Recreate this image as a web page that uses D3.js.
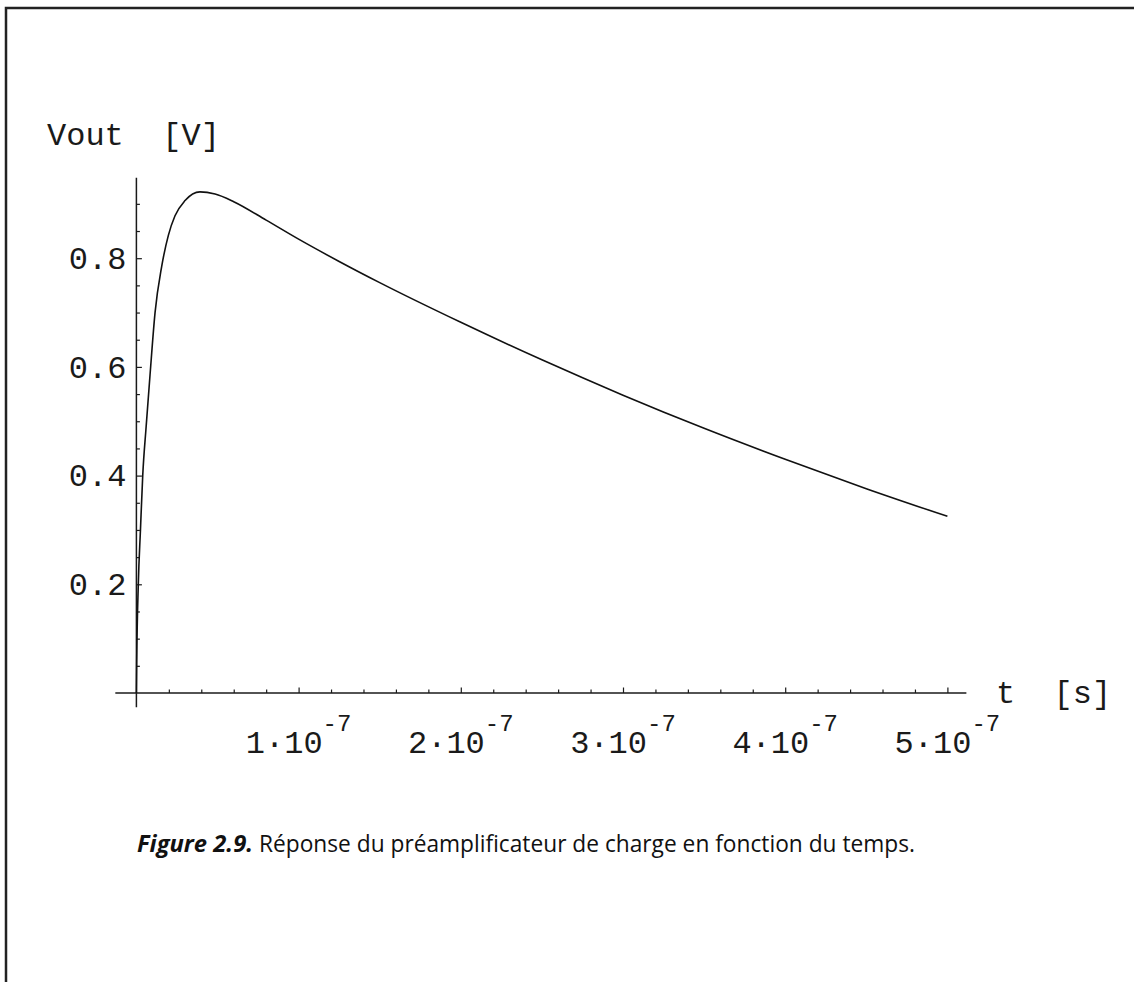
<!DOCTYPE html>
<html>
<head>
<meta charset="utf-8">
<script src="https://cdn.jsdelivr.net/npm/d3@7"></script>
<style>
  html, body { margin: 0; padding: 0; background: #fff; }
  svg { display: block; }
</style>
</head>
<body>
<svg id="chart" width="1134" height="982"></svg>
<script>
// ---- data (time in units of 1e-7 s) ----
const timeE7 = [0, 0.002, 0.0117, 0.025, 0.039, 0.06, 0.084, 0.115, 0.156, 0.197,
  0.238, 0.30, 0.392, 0.485, 0.60, 0.80, 1.0, 1.25, 1.5, 2.0,
  2.5, 3.0, 3.5, 4.0, 4.5, 5.0];
const voutVolts = [0, 0.06, 0.20, 0.30, 0.40, 0.49, 0.585, 0.70, 0.785, 0.842,
  0.878, 0.906, 0.922, 0.918, 0.904, 0.870, 0.835, 0.794, 0.755, 0.682,
  0.613, 0.548, 0.487, 0.430, 0.376, 0.325];
const xMajorTicks = [1e-7, 2e-7, 3e-7, 4e-7, 5e-7];
const xTickMantissa = ["1", "2", "3", "4", "5"];
const xTickExponent = "-7";
const yMajorTicks = [0.2, 0.4, 0.6, 0.8];
const yTickLabels = ["0.2", "0.4", "0.6", "0.8"];
const yAxisTitle = "Vout  [V]";
const xAxisTitle = "t  [s]";
const captionBold = "Figure 2.9.";
const captionText = "Réponse du préamplificateur de charge en fonction du temps.";

// ---- layout ----
const svg = d3.select("#chart");
svg.append("rect").attr("width", 1134).attr("height", 982).attr("fill", "#fff");

const x = d3.scaleLinear().domain([0, 5e-7]).range([136.4, 947.4]);
const y = d3.scaleLinear().domain([0, 0.8]).range([693, 258.2]);

const ink = "#1a1a1a";
const mono = "'Liberation Mono', 'Courier New', monospace";
const fs = 32;

// frame (top + left border)
svg.append("path").attr("d", "M6,982 V8 H1134")
  .attr("fill", "none").attr("stroke", "#222").attr("stroke-width", 2.5);

// minor tick values
const yMinor = d3.range(1, 19).map(i => +(i * 0.05).toFixed(2)).filter(v => !yMajorTicks.includes(v));
const xMinor = d3.range(1, 25).map(i => i * 0.2e-7).filter((v, i) => (i + 1) % 5 !== 0);

// y axis
const gy = svg.append("g").attr("transform", `translate(${x(0)},0)`);
gy.append("line").attr("x1", 0).attr("x2", 0)
  .attr("y1", y(0.948)).attr("y2", y(-0.026))
  .attr("stroke", ink).attr("stroke-width", 1.5);
gy.append("g").call(d3.axisLeft(y).tickValues(yMinor).tickSize(-3.5).tickFormat(""))
  .call(g => g.select(".domain").remove())
  .selectAll("line").attr("stroke", ink).attr("stroke-width", 1.2);
gy.append("g").call(d3.axisLeft(y).tickValues(yMajorTicks).tickSize(-5.5).tickPadding(10)
    .tickFormat((d, i) => yTickLabels[i]))
  .call(g => g.select(".domain").remove())
  .call(g => g.selectAll("line").attr("stroke", ink).attr("stroke-width", 1.2))
  .call(g => g.selectAll("text").attr("font-family", mono).attr("font-size", fs).attr("fill", ink));

// x axis
const gx = svg.append("g").attr("transform", `translate(0,${y(0)})`);
gx.append("line").attr("y1", 0).attr("y2", 0)
  .attr("x1", x(-0.13e-7)).attr("x2", x(5.117e-7))
  .attr("stroke", ink).attr("stroke-width", 1.5);
gx.append("g").call(d3.axisBottom(x).tickValues(xMinor).tickSize(-3.5).tickFormat(""))
  .call(g => g.select(".domain").remove())
  .selectAll("line").attr("stroke", ink).attr("stroke-width", 1.2);
gx.append("g").call(d3.axisBottom(x).tickValues(xMajorTicks).tickSize(-5.5).tickFormat(""))
  .call(g => g.select(".domain").remove())
  .selectAll("line").attr("stroke", ink).attr("stroke-width", 1.2);

// x tick labels with superscript exponent
const xl = svg.append("g").selectAll("text").data(xMajorTicks).join("text")
  .attr("x", d => x(d)).attr("y", 753)
  .attr("text-anchor", "middle")
  .attr("font-family", mono).attr("font-size", fs).attr("fill", ink);
xl.append("tspan").text((d, i) => xTickMantissa[i] + "·10");
xl.append("tspan").attr("dy", -22).attr("font-size", 24).text(xTickExponent);

// axis titles
svg.append("text").attr("x", 47).attr("y", 145)
  .attr("font-family", mono).attr("font-size", fs).attr("fill", ink)
  .style("white-space", "pre").text(yAxisTitle);
svg.append("text").attr("x", 996).attr("y", 703)
  .attr("font-family", mono).attr("font-size", fs).attr("fill", ink)
  .style("white-space", "pre").text(xAxisTitle);

// curve
const pts = timeE7.map((t, i) => [t * 1e-7, voutVolts[i]]);
svg.append("path").datum(pts)
  .attr("fill", "none").attr("stroke", "#111").attr("stroke-width", 1.6)
  .attr("stroke-linejoin", "round")
  .attr("d", d3.line().x(d => x(d[0])).y(d => y(d[1])).curve(d3.curveMonotoneX));

// caption (bold-italic lead + regular text)
const capFont = "'Open Sans', 'Noto Sans', sans-serif";
svg.append("text").attr("x", 137).attr("y", 852)
  .attr("font-family", capFont).attr("font-size", 24).attr("fill", "#111")
  .attr("font-weight", "bold").attr("font-style", "italic")
  .attr("textLength", 116).attr("lengthAdjust", "spacingAndGlyphs")
  .text(captionBold);
svg.append("text").attr("x", 259).attr("y", 852)
  .attr("font-family", capFont).attr("font-size", 24).attr("fill", "#111")
  .attr("textLength", 656).attr("lengthAdjust", "spacingAndGlyphs")
  .text(captionText);
</script>
</body>
</html>
